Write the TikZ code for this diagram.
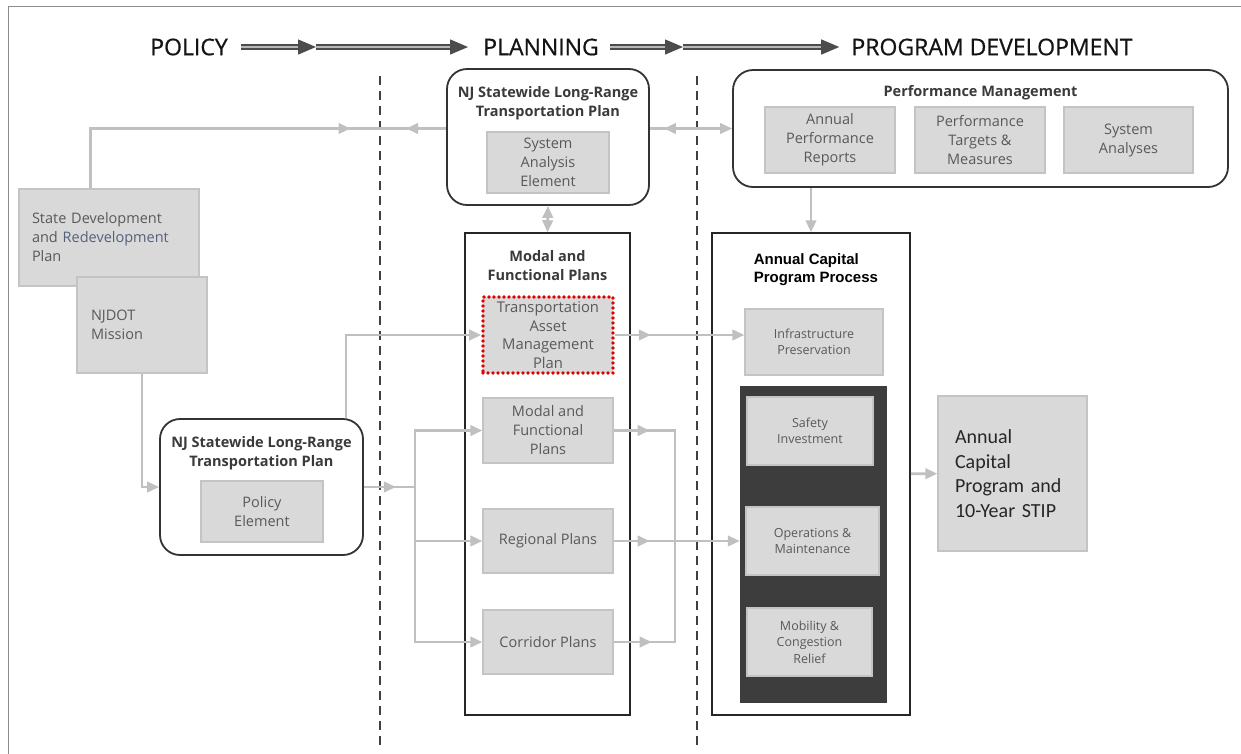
\documentclass[tikz,border=0pt]{standalone}
\usepackage{fontspec}
\setmainfont{Open Sans}
\newfontfamily\hdrfont{Open Sans}[FakeBold=0.7]
\newfontfamily\arialfont{Liberation Sans}
\newfontfamily\calibrifont{Carlito}
\usepackage{tikz}
\usetikzlibrary{arrows.meta,decorations.markings,positioning}
\definecolor{connc}{HTML}{C0C0C0}
\definecolor{boxfill}{HTML}{D9D9D9}
\definecolor{boxline}{HTML}{C4C4C4}
\definecolor{boxtext}{HTML}{595959}
\definecolor{redevc}{HTML}{56627A}
\definecolor{ttltext}{HTML}{3A3A3A}
\definecolor{panelc}{HTML}{3D3D3D}
\definecolor{tampred}{HTML}{E00000}

\begin{document}
\begin{tikzpicture}[x=1pt,y=-1pt,
  >={Triangle[length=12pt,width=10.5pt]},
  conn/.style={color=connc,line width=2.6pt},
  tipat/.style={postaction={decorate,decoration={markings,mark=at position #1 with {\arrow{>}}}}},
  tipback/.style={postaction={decorate,decoration={markings,mark=at position #1 with {\arrowreversed{>}}}}},
  gbox/.style={draw=boxline,fill=boxfill,line width=1.3pt,text=boxtext,align=center,inner sep=0pt,font=\fontsize{14.5}{19}\selectfont},
  sbox/.style={gbox,font=\fontsize{12.5}{16.5}\selectfont},
  rbox/.style={draw=black!80,line width=1.8pt,rounded corners=20pt,fill=white},
  tallbox/.style={draw=black!85,line width=1.5pt,fill=white},
  ttl/.style={text=ttltext,align=center,font=\bfseries\fontsize{14.5}{19}\selectfont},
  hdr/.style={text=black!92,inner sep=0pt,font=\hdrfont\fontsize{23}{28}\selectfont},
  bigarr/.style={draw=black!70,double=black!28,line width=1.3pt,double distance=2.6pt,-{Triangle[length=18pt,width=15pt]}},
  divider/.style={draw=black!75,line width=2.2pt,dash pattern=on 9pt off 6pt}]
  \useasboundingbox (0,0) rectangle (1241,753);
  \draw[black!45,line width=1pt] (8,6) rectangle (1270,790);

  % header
  \draw (189,47) node (policy) [hdr] {POLICY};
  \draw (541,47) node (planning) [hdr] {PLANNING};
  \draw (992,47) node (progdev) [hdr] {PROGRAM DEVELOPMENT};
  \coordinate (mid1) at (316,47);
  \coordinate (mid2) at (683,47);
  \draw[bigarr,shorten <=13pt] (policy.east) -- (mid1);
  \draw[bigarr,shorten >=15pt] (mid1) -- (planning.west);
  \draw[bigarr,shorten <=11pt] (planning.east) -- (mid2);
  \draw[bigarr,shorten >=12pt] (mid2) -- (progdev.west);

  \draw[divider] (380,76) -- (380,745);
  \draw[divider] (697,76) -- (697,745);

  % policy column
  \draw (109,237.5) node (sdrp) [gbox,align=left,text width=154pt,inner xsep=13pt,minimum height=97pt] {State Development\\and {\color{redevc}Redevelopment}\\Plan};
  \draw (142,325) node (njdot) [gbox,align=left,text width=102pt,inner xsep=14pt,minimum height=96pt] {NJDOT\\Mission};
  \draw (261.5,487) node (slrtpB) [rbox,minimum width=203pt,minimum height=136pt] {};
  \draw (slrtpB.north)++(down:35.5pt) node (slrtpBt) [ttl] {NJ Statewide Long-Range\\Transportation Plan};
  \draw (262,511.5) node (polel) [gbox,minimum width=122pt,minimum height=61pt] {Policy\\Element};

  % planning column
  \draw (548,137) node (slrtpT) [rbox,minimum width=202pt,minimum height=136pt] {};
  \draw (slrtpT.north)++(down:35.5pt) node (slrtpTt) [ttl] {NJ Statewide Long-Range\\Transportation Plan};
  \draw (548,162.5) node (sysel) [gbox,minimum width=122pt,minimum height=61pt] {System\\Analysis\\Element};
  \draw (547.5,474) node (mf) [tallbox,minimum width=165pt,minimum height=482pt] {};
  \draw (mf.north)++(down:33.5pt) node (mft) [ttl] {Modal and\\Functional Plans};
  \draw (548,335) node (tamp) [gbox,draw=tampred,line width=3.6pt,line cap=round,dash pattern=on 0pt off 5pt,minimum width=130pt,minimum height=76pt,font=\fontsize{14.8}{18.7}\selectfont] {Transportation\\Asset\\Management\\Plan};
  \draw (548,430.5) node (mfp) [gbox,minimum width=130pt,minimum height=65pt] {Modal and\\Functional\\Plans};
  \draw (548,541) node (reg) [gbox,minimum width=130pt,minimum height=64pt] {Regional Plans};
  \draw (548,642) node (cor) [gbox,minimum width=130pt,minimum height=64pt] {Corridor Plans};

  % program development column
  \draw (980.5,128.5) node (perf) [rbox,minimum width=495pt,minimum height=117pt] {};
  \draw (perf.north)++(down:23.5pt) node (perft) [ttl] {Performance Management};
  \draw (830,140) node (apr) [gbox,minimum width=130pt,minimum height=66pt] {Annual\\Performance\\Reports};
  \draw (980,140) node (ptm) [gbox,minimum width=130pt,minimum height=66pt] {Performance\\Targets \&\\Measures};
  \draw (1128.5,140) node (sysan) [gbox,minimum width=129pt,minimum height=66pt] {System\\Analyses};
  \draw (811,474) node (acpp) [tallbox,minimum width=198pt,minimum height=482pt] {};
  \draw (acpp.north west)++(39pt,-37pt) node (acppt) [anchor=west,align=left,font=\arialfont\bfseries\fontsize{15}{18}\selectfont] {Annual Capital\\Program Process};
  \draw (814,342) node (infra) [sbox,minimum width=138pt,minimum height=66pt] {Infrastructure\\Preservation};
  \draw (813.5,544.5) node (panel) [fill=panelc,minimum width=147pt,minimum height=317pt] {};
  \draw (810,431) node (safety) [sbox,minimum width=126pt,minimum height=68pt] {Safety\\Investment};
  \draw (812.5,541) node (ops) [sbox,minimum width=133pt,minimum height=68pt] {Operations \&\\Maintenance};
  \draw (809.5,642) node (mob) [sbox,minimum width=125pt,minimum height=68pt] {Mobility \&\\Congestion\\Relief};
  \draw (1012.5,473.5) node (acp) [gbox,text=black!85,align=left,text width=115pt,inner xsep=17pt,minimum height=155pt,font=\calibrifont\fontsize{20}{24.5}\selectfont] {Annual\\Capital\\Program and\\10-Year STIP};

  % connectors
  \coordinate (jL) at (415,487);
  \coordinate (jR) at (675,541);
  \draw[conn,tipat=320pt,tipback=-40pt] (sdrp.north west)++(72pt,0pt) |- (perf.west -| slrtpT.west);
  \draw[conn,->,tipback=14pt] (perf.west -| slrtpT.east) -- (perf.west);
  \draw[conn,<->] (slrtpT.south) -- (mf.north);
  \draw[conn,->] (acpp.north |- perf.south) -- (acpp.north);
  \draw[conn,->] (njdot.south) |- (slrtpB.west);
  \draw[conn,->] (slrtpB.north east)++(-18pt,0pt) |- (tamp.west);
  \draw[conn,tipat=32pt] (slrtpB.east) -- (jL);
  \draw[conn,->] (jL) |- (mfp.west);
  \draw[conn,->] (jL) |- (reg.west);
  \draw[conn,->] (jL) |- (cor.west);
  \draw[conn,tipat=36pt] (mfp.east) -| (jR);
  \draw[conn,tipat=38pt] (cor.east) -| (jR);
  \draw[conn,->,tipat=36pt] (reg.east) -- (reg.east -| panel.west);
  \draw[conn,->,tipat=36pt] (tamp.east) -- (tamp.east -| infra.west);
  \draw[conn,->] (acpp) -- (acp);
\end{tikzpicture}
\end{document}
